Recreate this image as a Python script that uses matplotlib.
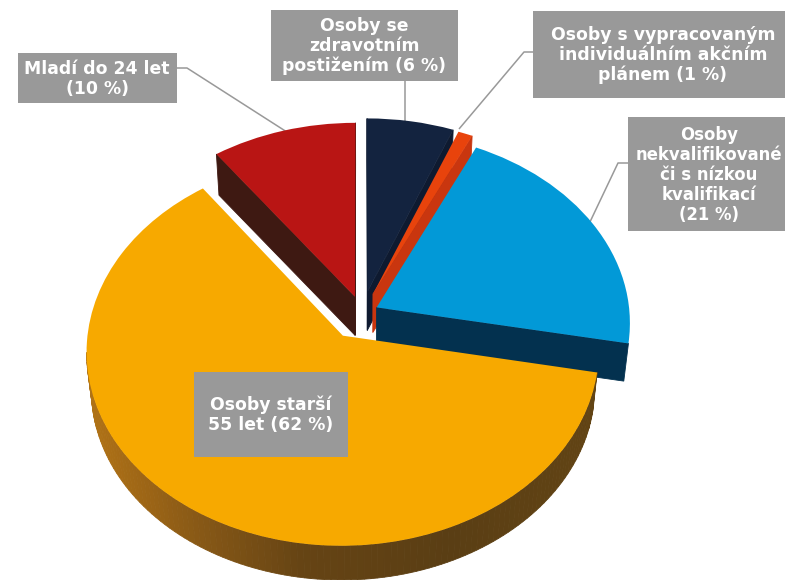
import numpy as np
import matplotlib
matplotlib.use("Agg")
import matplotlib.pyplot as plt
from matplotlib.patches import Rectangle
from matplotlib.transforms import Transform

# Shares in percent, clockwise from twelve o'clock
slice_names = ["zdravotní postižení", "akční plán", "nekvalifikovaní", "starší 55 let", "mladí do 24 let"]
slice_values = [6, 1, 21, 62, 10]
slice_labels = [
    "Osoby se\nzdravotním\npostižením (6 %)",
    "Osoby s vypracovaným\nindividuálním akčním\nplánem (1 %)",
    "Osoby\nnekvalifikované\nči s nízkou\nkvalifikací\n(21 %)",
    "Osoby starší\n55 let (62 %)",
    "Mladí do 24 let\n(10 %)",
]
top_colors = ["#13233F", "#E8430C", "#0299D7", "#F7A900", "#B91514"]
wall_colors = ["#0E1A30", "#C9360F", "#03314F", None, "#3E1912"]
explode = [0.115, 0.11, 0.065, 0.14, 0.09]
rim_wall = [False, False, False, True, False]

# Label boxes in pixels: x0, y0, x1, y1
label_boxes = [(271, 10, 458, 81), (533, 11, 790, 98), (628, 117, 800, 231),
               (194, 372, 348, 457), (18, 53, 177, 103)]
label_centers = [(364, 46), (663, 55), (709, 175), (271, 415), (97, 79)]
label_sizes = [12.4, 12.4, 11.9, 12.4, 12.4]
leaders = [
    [(405, 81), (405, 124)],
    [(533, 52), (524, 52), (459, 129)],
    [(628, 163), (618, 163), (589, 224)],
    [(177, 68), (187, 68), (290, 134)],
]

CENTER = (362.0, 313.0)
RX, RY, PERSP = 253.0, 190.0, 0.078
VANISH = (362.0, 2500.0)
DEPTH = 0.0175
BOX_GREY = "#999999"

# Wall shading of the large slice, by horizontal pixel position
shade_x = [85, 150, 200, 300, 450, 600]
shade_r = [178, 155, 135, 102, 90, 98]
shade_g = [116, 100, 88, 68, 62, 68]
shade_b = [22, 22, 22, 20, 20, 20]


class TiltedPlane(Transform):
    """Projects the flat pie plane onto a tilted disc in pixel coordinates."""
    input_dims = 2
    output_dims = 2
    is_separable = False

    def transform_non_affine(self, values):
        values = np.asarray(values, dtype=float)
        k = 1.0 / (1.0 + PERSP * values[:, 1])
        return np.column_stack((CENTER[0] + RX * values[:, 0] * k,
                                CENTER[1] - RY * values[:, 1] * k))


def lower_edge(points):
    return points + (np.array(VANISH) - points) * DEPTH


def outline(wedge):
    angles = np.radians(np.linspace(wedge.theta1, wedge.theta2, 160))
    cx, cy = wedge.center
    rim = np.column_stack((cx + wedge.r * np.cos(angles), cy + wedge.r * np.sin(angles)))
    return np.vstack(([[cx, cy]], rim, [[cx, cy]]))


def rgb_at(x):
    return (np.interp(x, shade_x, shade_r) / 255,
            np.interp(x, shade_x, shade_g) / 255,
            np.interp(x, shade_x, shade_b) / 255)


fig = plt.figure(figsize=(7.85, 5.8), dpi=100, facecolor="white")
ax = fig.add_axes([0, 0, 1, 1])
wedges, _ = ax.pie(slice_values, colors=top_colors, explode=explode, startangle=90,
                   counterclock=False, radius=1.0, wedgeprops={"linewidth": 0})
ax.set_aspect("auto")
ax.set_xlim(0, 785)
ax.set_ylim(580, 0)
ax.axis("off")

plane = TiltedPlane()
# Back slices first so the front slice overlaps their walls
paint_order = [4, 0, 1, 2, 3]
for depth_rank, idx in enumerate(paint_order):
    wedge = wedges[idx]
    base_z = 2 + depth_rank * 2
    top = plane.transform(outline(wedge))
    bottom = lower_edge(top)
    last = len(top) - 2
    for seg, (a0, a1, b0, b1) in enumerate(zip(top[:-1], top[1:], bottom[:-1], bottom[1:])):
        # Only edges running rightwards on screen face the viewer
        if a1[0] <= a0[0]:
            continue
        if seg not in (0, last) and not rim_wall[idx]:
            continue
        xs = [a0[0], a1[0], b1[0], b0[0]]
        ys = [a0[1], a1[1], b1[1], b0[1]]
        color = wall_colors[idx] or rgb_at(0.5 * (a0[0] + a1[0]))
        ax.fill(xs, ys, color=color, lw=0.6, zorder=base_z)
    wedge.set_transform(plane + ax.transData)
    wedge.set_zorder(base_z + 1)

for line in leaders:
    xs, ys = zip(*line)
    ax.plot(xs, ys, color=BOX_GREY, lw=1.1, zorder=1, solid_capstyle="butt")

for box, center, text, size in zip(label_boxes, label_centers, slice_labels, label_sizes):
    ax.add_patch(Rectangle((box[0], box[1]), box[2] - box[0], box[3] - box[1],
                           facecolor=BOX_GREY, edgecolor="none", zorder=15))
    ax.text(center[0], center[1], text, ha="center", va="center", ma="center",
            color="white", fontsize=size, fontweight="bold", family="DejaVu Sans",
            linespacing=1.15, zorder=16)

fig.savefig("out.png", dpi=100, facecolor="white")
